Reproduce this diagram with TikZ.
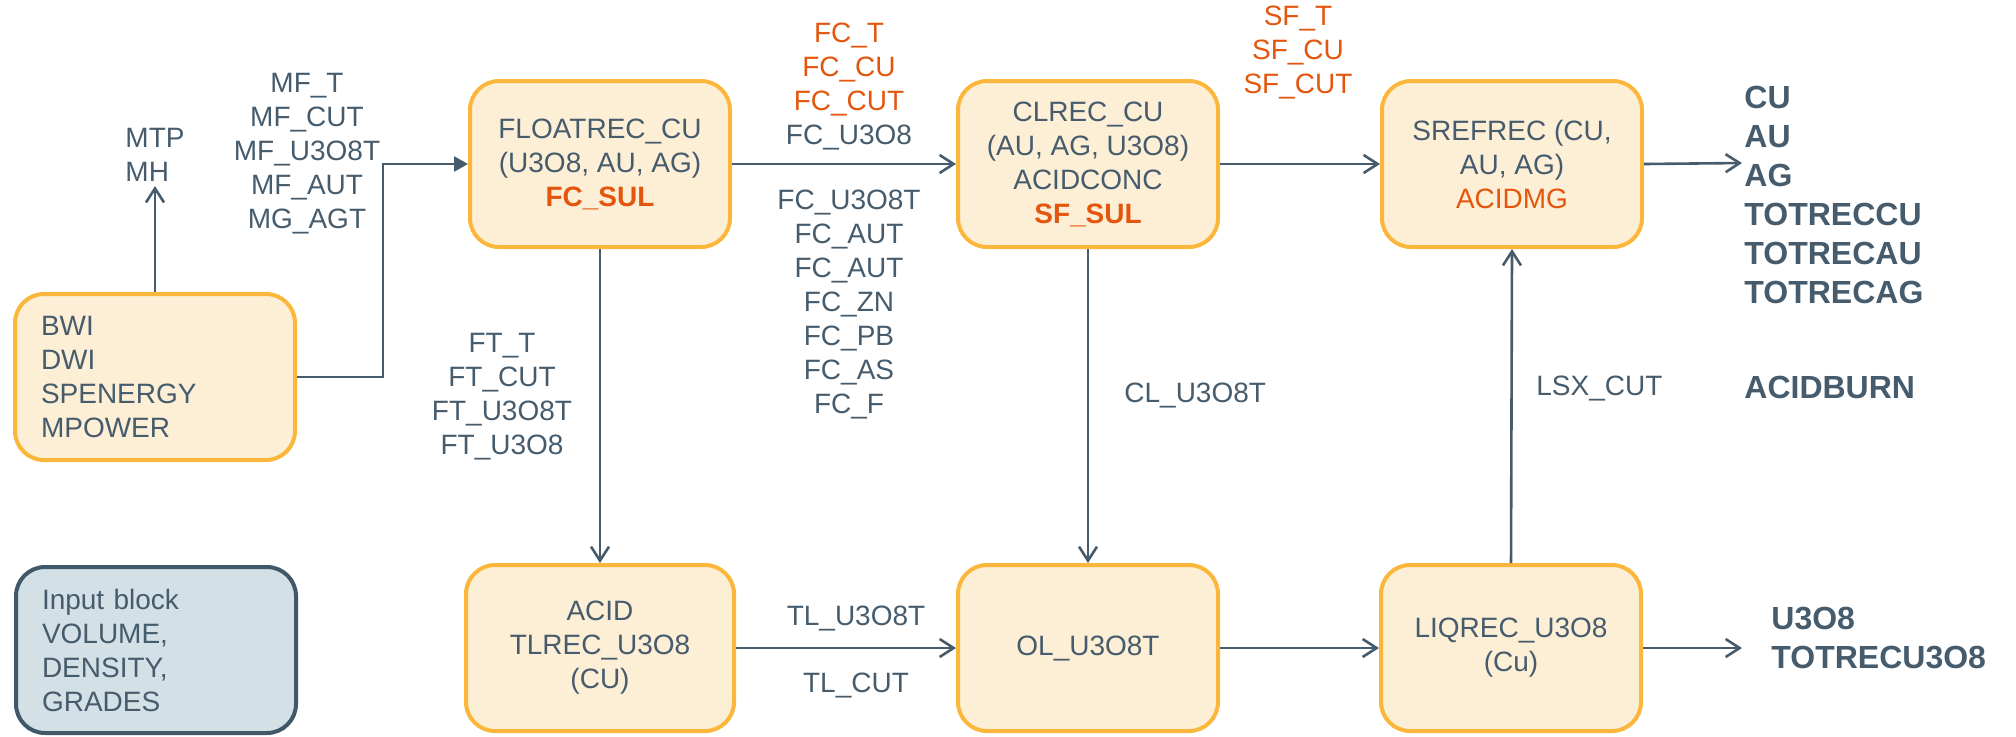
\documentclass[tikz,border=0pt]{standalone}
\usepackage{fontspec}
\setmainfont{Liberation Sans}
\usetikzlibrary{arrows.meta}
\definecolor{slate}{RGB}{70,92,109}
\definecolor{orng}{RGB}{228,86,14}
\definecolor{boxfill}{RGB}{253,239,214}
\definecolor{boxline}{RGB}{250,183,59}
\definecolor{inpfill}{RGB}{211,224,229}
\definecolor{inpline}{RGB}{64,88,104}
\begin{document}
\begin{tikzpicture}[x=0.5pt,y=-0.5pt,
  every node/.style={font=\fontsize{14}{17}\selectfont, text=slate},
  proc/.style={draw=boxline, fill=boxfill, line width=2pt, rounded corners=14.5pt,
    minimum width=130pt, minimum height=83pt, align=center, inner sep=0pt},
  leftbox/.style={proc, minimum width=140pt, align=left, inner xsep=13pt, text width=114pt},
  inpbox/.style={leftbox, draw=inpline, fill=inpfill},
  lbl/.style={align=center, inner sep=2pt},
  outl/.style={font=\fontsize{16}{19.5}\selectfont\bfseries, align=left, inner sep=0pt},
  conn/.style={draw=slate, line width=1.3pt, -{Straight Barb[length=7pt,width=9pt]}},
  connf/.style={draw=slate, line width=1.3pt, -{Triangle[length=7pt,width=7.5pt]}},
]
\useasboundingbox (0,0) rectangle (2016,736);

% process boxes
\node[leftbox] (bwi) at (155,377) {BWI\\DWI\\SPENERGY\\MPOWER};
\node[inpbox] (inp) at (156,650) {Input block\\VOLUME,\\DENSITY,\\GRADES};
\node[proc] (float) at (600,164) {FLOATREC\_CU\\(U3O8, AU, AG)\\\textcolor{orng}{\textbf{FC\_SUL}}};
\node[proc] (clrec) at (1088,164) {CLREC\_CU\\(AU, AG, U3O8)\\ACIDCONC\\\textcolor{orng}{\textbf{SF\_SUL}}};
\node[proc] (sref) at (1512,164) {SREFREC (CU,\\AU, AG)\\\textcolor{orng}{ACIDMG}};
\node[proc, minimum width=134pt] (acid) at (600,648) {ACID\\TLREC\_U3O8\\(CU)};
\node[proc] (ol) at (1088,648) {OL\_U3O8T};
\node[proc] (liq) at (1511,648) {LIQREC\_U3O8\\(Cu)};

% labels
\node[lbl, align=left] (mtp) at (155,155) {MTP\\MH};
\node[lbl] (mf) at (307,154) {MF\_T\\MF\_CUT\\MF\_U3O8T\\MF\_AUT\\MG\_AGT};
\node[lbl] (fct) at (849,86) {\textcolor{orng}{FC\_T}\\\textcolor{orng}{FC\_CU}\\\textcolor{orng}{FC\_CUT}\\FC\_U3O8};
\node[lbl] (fcb) at (849,304) {FC\_U3O8T\\FC\_AUT\\FC\_AUT\\FC\_ZN\\FC\_PB\\FC\_AS\\FC\_F};
\node[lbl, text=orng] (sf) at (1298,52) {SF\_T\\SF\_CU\\SF\_CUT};
\node[lbl] (ft) at (502,397) {FT\_T\\FT\_CUT\\FT\_U3O8T\\FT\_U3O8};
\node[lbl, anchor=west] (cl) at (1120,395) {CL\_U3O8T};
\node[lbl, anchor=west] (lsx) at (1532,388) {LSX\_CUT};
\node[lbl] (tl1) at (856,618) {TL\_U3O8T};
\node[lbl] (tl2) at (856,685) {TL\_CUT};

% outputs
\node[outl, anchor=west] (res) at (1744,195) {CU\\AU\\AG\\TOTRECCU\\TOTRECAU\\TOTRECAG};
\node[outl, anchor=west] (burn) at (1744,387) {ACIDBURN};
\node[outl, anchor=west] (u3o8) at (1771,638) {U3O8\\TOTRECU3O8};
\coordinate (o1) at (1742,163);
\coordinate (o2) at (1742,648);

% connectors
\draw[conn] (bwi.north) -- (mtp.south);
\draw[connf] (bwi.east) -- ++(86,0) |- (float.west);
\draw[conn] (float.east) -- (clrec.west);
\draw[conn] (clrec.east) -- (sref.west);
\draw[conn] (sref.east) -- (o1);
\draw[conn] (float.south) -- (acid.north);
\draw[conn] (clrec.south) -- (ol.north);
\draw[conn] (acid.east) -- (ol.west);
\draw[conn] (ol.east) -- (liq.west);
\draw[conn] (liq.north) -- (sref.south);
\draw[conn] (liq.east) -- (o2);
\end{tikzpicture}
\end{document}
